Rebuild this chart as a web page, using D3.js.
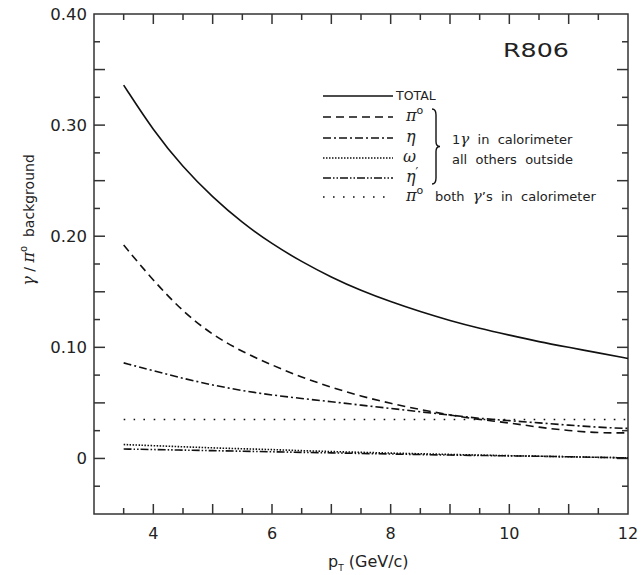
<!DOCTYPE html>
<html lang='en'>
    <head>
        <meta charset="utf-8">
        <title>R806 gamma/pi0 background</title>
        <script src='https://d3js.org/d3.v7.min.js'></script>
        <style>
            body { margin: 0; background: #fff; }
            text { font-family: 'DejaVu Sans', sans-serif; fill: #222; white-space: pre; }
        </style>
    </head>
    <body>
        <script type='text/javascript'>
            var w = 641;
            var h = 575;

            // pT values where the curves were read
            var pT = [3.5, 4, 4.5, 5, 5.5, 6, 6.5, 7, 7.5, 8, 8.5, 9, 9.5, 10, 10.5, 11, 11.5, 12];

            var total  = [0.336, 0.295, 0.262, 0.235, 0.212, 0.193, 0.177, 0.163, 0.151, 0.141, 0.132, 0.124, 0.117, 0.111, 0.105, 0.100, 0.095, 0.090];
            var pi0One = [0.192, 0.160, 0.132, 0.111, 0.096, 0.084, 0.073, 0.064, 0.056, 0.0495, 0.044, 0.039, 0.035, 0.032, 0.028, 0.025, 0.023, 0.023];
            var eta    = [0.086, 0.079, 0.072, 0.066, 0.061, 0.057, 0.054, 0.051, 0.048, 0.045, 0.042, 0.039, 0.036, 0.034, 0.032, 0.030, 0.028, 0.027];
            var omega  = [0.0125, 0.0115, 0.0105, 0.0095, 0.0087, 0.008, 0.007, 0.0062, 0.0055, 0.0048, 0.0042, 0.0036, 0.003, 0.0025, 0.002, 0.0015, 0.001, 0.0005];
            var etaP   = [0.0085, 0.008, 0.0075, 0.007, 0.0065, 0.006, 0.0055, 0.005, 0.0045, 0.004, 0.0035, 0.003, 0.0027, 0.0023, 0.002, 0.0015, 0.001, 0.0005];
            var pi0Both = [0.035, 0.035, 0.035, 0.035, 0.035, 0.035, 0.035, 0.035, 0.035, 0.035, 0.035, 0.035, 0.035, 0.035, 0.035, 0.035, 0.035, 0.035];

            var xLabels = [4, 6, 8, 10, 12];
            var yLabels = [0.40, 0.30, 0.20, 0.10, 0];

            var xScale = d3.scaleLinear().domain([3, 12]).range([94, 628]);
            var yScale = d3.scaleLinear().domain([-0.05, 0.40]).range([514, 14]);

            var svg = d3.select('body').append('svg')
                .attr('width', w)
                .attr('height', h);

            // frame
            svg.append('rect')
                .attr('x', xScale(3)).attr('y', yScale(0.40))
                .attr('width', xScale(12) - xScale(3))
                .attr('height', yScale(-0.05) - yScale(0.40))
                .attr('fill', 'none').attr('stroke', '#333').attr('stroke-width', 1.5);

            // inward ticks on all four sides
            var xMajor = d3.range(4, 12, 1), xMinor = d3.range(3.5, 12, 1);
            var yMajor = d3.range(-0.05, 0.40, 0.05).filter(function(d){ return d > -0.049; });
            var yMinor = d3.range(-0.025, 0.40, 0.05);

            var tickG = svg.append('g').attr('stroke', '#333').attr('stroke-width', 1.5);
            function xTicks(vals, len) {
                vals.forEach(function(v){
                    var x = xScale(v);
                    tickG.append('line').attr('x1', x).attr('x2', x).attr('y1', yScale(-0.05)).attr('y2', yScale(-0.05) - len);
                    tickG.append('line').attr('x1', x).attr('x2', x).attr('y1', yScale(0.40)).attr('y2', yScale(0.40) + len);
                });
            }
            function yTicks(vals, len) {
                vals.forEach(function(v){
                    var y = yScale(v);
                    tickG.append('line').attr('x1', xScale(3)).attr('x2', xScale(3) + len).attr('y1', y).attr('y2', y);
                    tickG.append('line').attr('x1', xScale(12)).attr('x2', xScale(12) - len).attr('y1', y).attr('y2', y);
                });
            }
            xTicks(xMajor, 10); xTicks(xMinor, 6);
            yTicks(yMajor, 11); yTicks(yMinor, 6);

            // tick labels
            svg.selectAll('.xl').data(xLabels).enter().append('text')
                .attr('x', function(d){ return xScale(d); })
                .attr('y', 539)
                .attr('text-anchor', 'middle')
                .attr('font-size', '16px')
                .text(function(d){ return d; });

            svg.selectAll('.yl').data(yLabels).enter().append('text')
                .attr('x', 87)
                .attr('y', function(d){ return yScale(d) + 6; })
                .attr('text-anchor', 'end')
                .attr('font-size', '16.5px')
                .text(function(d){ return d === 0 ? '0' : d.toFixed(2); });

            // axis titles
            var xt = svg.append('text').attr('x', 328).attr('y', 567).attr('font-size', '16px');
            xt.append('tspan').text('p');
            xt.append('tspan').attr('font-size', '9px').attr('dy', 4).text('T');
            xt.append('tspan').attr('dy', -4).text(' (GeV/c)');

            var yt = svg.append('text')
                .attr('transform', 'translate(34,220) rotate(-90)')
                .attr('text-anchor', 'middle')
                .attr('font-size', '14px');
            yt.append('tspan').attr('font-family', 'DejaVu Serif').attr('font-style', 'italic').attr('font-size', '16px').text('γ');
            yt.append('tspan').text(' / ');
            yt.append('tspan').attr('font-family', 'DejaVu Serif').attr('font-style', 'italic').attr('font-size', '16px').text('π');
            yt.append('tspan').attr('font-size', '10px').attr('dy', -7).text('o');
            yt.append('tspan').attr('dy', 7).text('  background');

            svg.append('text').attr('x', 503).attr('y', 57)
                .attr('font-size', '19px')
                .attr('textLength', 66).attr('lengthAdjust', 'spacingAndGlyphs')
                .text('R806');

            // curves
            var series = [
                { values: total,   dash: null },
                { values: pi0One,  dash: '8,5' },
                { values: eta,     dash: '8,3,2,3' },
                { values: omega,   dash: '1.5,1.5' },
                { values: etaP,    dash: '8,2,1.5,2,1.5,2' },
                { values: pi0Both, dash: '1.6,8.4' }
            ];

            var line = d3.line()
                .x(function(d){ return xScale(d[0]); })
                .y(function(d){ return yScale(d[1]); })
                .curve(d3.curveBasis);

            svg.selectAll('.curve').data(series).enter().append('path')
                .attr('d', function(s){ return line(pT.map(function(p, i){ return [p, s.values[i]]; })); })
                .attr('fill', 'none')
                .attr('stroke', '#111')
                .attr('stroke-width', 1.6)
                .attr('stroke-dasharray', function(s){ return s.dash; });

            // legend
            var legendY = [96, 117, 138, 158, 178, 197];
            var legendSym = ['', 'π', 'η', 'ω', 'η', 'π'];
            var lg = svg.append('g');
            series.forEach(function(s, i){
                lg.append('line')
                    .attr('x1', 323).attr('x2', 393)
                    .attr('y1', legendY[i]).attr('y2', legendY[i])
                    .attr('stroke', '#111').attr('stroke-width', 1.4)
                    .attr('stroke-dasharray', s.dash);
            });
            lg.append('text').attr('x', 396).attr('y', legendY[0] + 4)
                .attr('font-size', '12.5px').text('TOTAL');
            [1, 2, 3, 4, 5].forEach(function(i){
                var t = lg.append('text').attr('x', i === 3 ? 403 : 406).attr('y', legendY[i] + 4)
                    .attr('font-size', '16px');
                t.append('tspan').attr('font-family', 'DejaVu Serif').attr('font-style', 'italic').text(legendSym[i]);
                if (i === 1 || i === 5) t.append('tspan').attr('font-size', '11px').attr('dy', -7).text('o');
                if (i === 4) t.append('tspan').attr('font-size', '12px').attr('dy', -6).text('\u2032');
            });

            // brace
            var bx = 432, by0 = 109, by1 = 184, bm = (by0 + by1) / 2;
            lg.append('path')
                .attr('d', 'M' + bx + ',' + by0 +
                    ' Q' + (bx + 4) + ',' + by0 + ' ' + (bx + 4) + ',' + (by0 + 6) +
                    ' L' + (bx + 4) + ',' + (bm - 5) +
                    ' Q' + (bx + 4) + ',' + bm + ' ' + (bx + 8) + ',' + bm +
                    ' Q' + (bx + 4) + ',' + bm + ' ' + (bx + 4) + ',' + (bm + 5) +
                    ' L' + (bx + 4) + ',' + (by1 - 6) +
                    ' Q' + (bx + 4) + ',' + by1 + ' ' + bx + ',' + by1)
                .attr('fill', 'none').attr('stroke', '#111').attr('stroke-width', 1.4);

            var t1 = lg.append('text').attr('x', 452).attr('y', 144).attr('font-size', '13px');
            t1.append('tspan').text('1');
            t1.append('tspan').attr('font-family', 'DejaVu Serif').attr('font-style', 'italic').attr('font-size', '15px').text('γ');
            t1.append('tspan').text('  in  calorimeter');
            lg.append('text').attr('x', 452).attr('y', 164).attr('font-size', '13px')
                .text('all  others  outside');
            var t2 = lg.append('text').attr('x', 435).attr('y', 201).attr('font-size', '13px');
            t2.append('tspan').text('both  ');
            t2.append('tspan').attr('font-family', 'DejaVu Serif').attr('font-style', 'italic').attr('font-size', '15px').text('γ');
            t2.append('tspan').text('\u2019s  in  calorimeter');
        </script>
    </body>
</html>
